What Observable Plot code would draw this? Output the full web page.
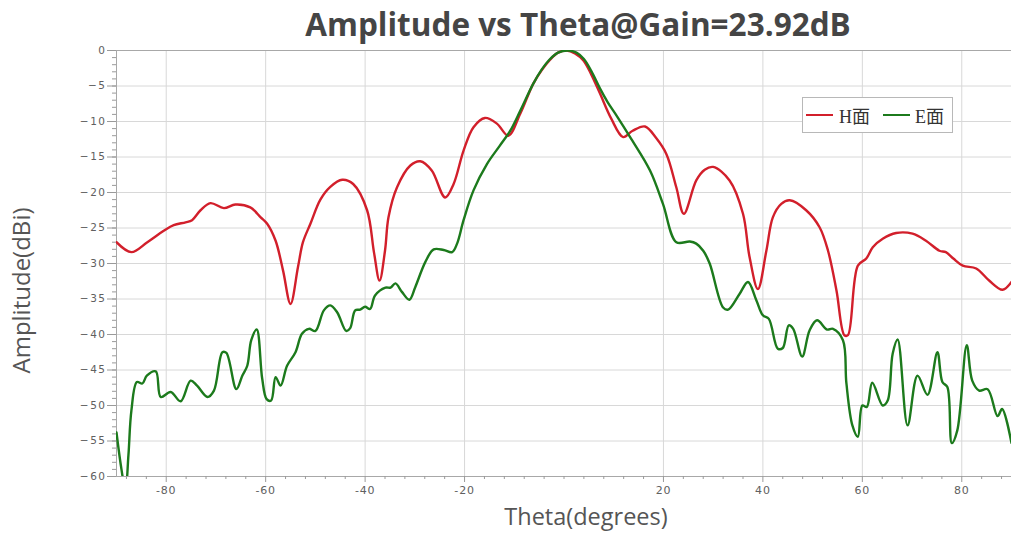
<!DOCTYPE html>
<html><head><meta charset="utf-8">
<script src="https://cdn.jsdelivr.net/npm/d3@7"></script>
<script src="https://cdn.jsdelivr.net/npm/@observablehq/plot@0.6"></script>
<style>
body{margin:0;background:#fff;}
#wrap{position:relative;width:1011px;height:534px;overflow:hidden;}
#legend{position:absolute;left:802px;top:97px;width:149px;height:34px;border:1px solid #b8b8b8;background:#fff;font-family:"Liberation Serif","Noto Sans CJK SC",serif;font-size:18px;color:#333;display:flex;align-items:center;}
#legend .ln{display:inline-block;width:27px;height:2px;}
g[aria-label="y-axis tick label"] text{letter-spacing:1.5px;}
g[aria-label="x-axis tick label"] text{letter-spacing:0.8px;}
</style></head><body><div id="wrap"></div>
<script>
const titleText = "Amplitude vs Theta@Gain=23.92dB";
const xLabelText = "Theta(degrees)";
const yLabelText = "Amplitude(dBi)";
const seriesNames = ["H面", "E面"];
const seriesColors = ["#d21f2b", "#1c7a1c"];

const xMajorTicks = [-80, -60, -40, -20, 20, 40, 60, 80];
const xTickLabels = ["-80", "-60", "-40", "-20", "20", "40", "60", "80"];
const xMinorTicks = [-88,-84,-76,-72,-68,-64,-56,-52,-48,-44,-36,-32,-28,-24,-16,-12,-8,-4,0,4,8,12,16,24,28,32,36,44,48,52,56,64,68,72,76,84,88];
const yMajorTicks = [0,-5,-10,-15,-20,-25,-30,-35,-40,-45,-50,-55,-60];
const yMinorTicks = d3.range(-60, 1, 1);

const hTheta = [-90,-87,-83.8,-80.5,-78.5,-76.1,-74.8,-73.1,-71.1,-68.4,-66.1,-63.1,-61.0,-59.7,-58.0,-56.5,-55.0,-53.5,-52.5,-51,-49,-47,-44.6,-42.4,-39.6,-38.2,-37.1,-36,-35.3,-33.6,-30.9,-28.9,-26.6,-23.9,-22.2,-20.2,-18.2,-15.9,-13.5,-11.2,-8.8,-6.2,-4.5,-2.8,-1.2,0.5,2.2,3.9,5.5,7.2,9.5,11.9,13.8,16.3,18.5,20.6,22.6,24.1,26.6,28.3,30.0,33.3,36.0,37.3,39.0,40.7,42.0,43.7,45.4,48.7,51.4,53.1,54.8,56.4,57.1,59.1,60.8,62.1,64.1,66.8,70.1,72.8,75.5,76.8,78.3,80.2,82.9,85.5,88.2,90];
const hAmp = [-27.0,-28.4,-27.0,-25.4,-24.6,-24.2,-23.9,-22.5,-21.5,-22.2,-21.7,-22.1,-23.5,-24.4,-26.8,-31,-35.7,-30.5,-27,-24.4,-21.0,-19.2,-18.2,-18.8,-22.5,-28.5,-32.4,-28.2,-23.5,-19.3,-16.2,-15.6,-16.9,-20.7,-18.8,-14.1,-10.8,-9.5,-10.3,-12.0,-8.9,-4.7,-2.8,-1.3,-0.3,0,-0.4,-1.4,-3.4,-6.0,-9.6,-12.2,-11.3,-10.7,-12.3,-14.6,-19.3,-23.0,-18.3,-16.8,-16.4,-18.3,-23.0,-29.0,-33.6,-28.2,-23.5,-21.6,-21.1,-22.5,-24.9,-28.2,-33.8,-40.1,-40.1,-30.3,-29.3,-27.7,-26.5,-25.7,-25.8,-26.8,-28.2,-28.4,-29.3,-30.3,-30.7,-32.4,-33.7,-32.6];

const eTheta = [-90,-89,-88.2,-87.6,-87.0,-85.9,-84.8,-83.9,-82.1,-81.1,-79.1,-77.1,-75.1,-73.8,-71.7,-70.4,-68.7,-67.9,-65.9,-64.7,-63.7,-62.9,-61.8,-60.7,-59.8,-58.9,-58.0,-57.0,-55.7,-54.0,-52.7,-51.3,-50.0,-48.3,-47.0,-45.6,-43.8,-43.0,-42.0,-41.0,-40.0,-39.0,-38.0,-35.9,-34.9,-33.9,-32.6,-31.1,-29.9,-27.9,-26.2,-24.2,-22.5,-21.5,-20.2,-18.2,-15.5,-12.9,-10.8,-8.8,-6.2,-4.5,-2.8,-1.2,0.8,2.5,4.0,5.5,7.2,8.8,10.6,13.3,17.3,19.9,22.6,25.3,26.6,28.0,29.3,32.0,33.0,35.3,37.0,38.7,40.0,41.2,43.0,44.0,45.2,46.1,47.9,49.4,50.9,52.9,54.1,56.1,56.8,58.0,59.1,60.0,60.9,62.0,64.1,65.1,66.1,67.1,69.1,71.1,73.1,75.1,76.1,77.1,78.0,79.1,81.0,82.1,83.5,85.2,87.2,88.1,90];
const eAmp = [-53.8,-59,-62,-57,-50.7,-46.7,-46.9,-45.8,-45.2,-48.8,-48.1,-49.4,-46.5,-47.2,-48.8,-47.9,-42.5,-42.6,-47.7,-45.8,-44.4,-40.8,-39.3,-46.2,-49.1,-49.3,-46.0,-47.2,-44.4,-42.5,-39.9,-39.2,-39.5,-36.6,-35.9,-36.9,-39.5,-39.1,-36.6,-36.5,-36.1,-36.4,-34.5,-33.4,-33.4,-32.8,-34.0,-35.1,-33.3,-29.8,-28.0,-28.1,-28.4,-27.2,-23.9,-19.7,-16.0,-13.4,-11.3,-8.5,-4.7,-2.7,-1.2,-0.3,0,-0.3,-1.2,-2.9,-5.3,-7.3,-9.2,-12.2,-16.9,-21.6,-27.0,-26.9,-27.2,-28.2,-30.0,-36.2,-36.5,-34.3,-32.6,-35.2,-37.3,-37.8,-42.0,-41.9,-38.7,-39.2,-43.1,-39.4,-38.0,-39.3,-39.2,-40.8,-46.9,-52.8,-54.4,-50.0,-50.2,-46.8,-50.0,-49.3,-42.7,-40.7,-52.8,-45.8,-48.5,-42.5,-46.7,-47.4,-55.3,-53.5,-41.5,-46.5,-47.9,-47.7,-51.5,-50.5,-55.3];

const hData = hTheta.map((t, i) => ({theta: t, amp: hAmp[i]}));
const eData = eTheta.map((t, i) => ({theta: t, amp: eAmp[i]}));

const axisColor = "#a8a8a8";
const gridColor = "#d8d8d8";

const chart = Plot.plot({
  width: 1011, height: 534,
  marginTop: 50, marginBottom: 58, marginLeft: 116, marginRight: 0,
  x: {domain: [-90, 90], label: null},
  y: {domain: [-60, 0], label: null},
  style: {fontFamily: "DejaVu Sans", background: "white", overflow: "visible"},
  marks: [
    Plot.gridX(xMajorTicks, {stroke: gridColor, strokeOpacity: 1}),
    Plot.gridY(yMajorTicks.filter(v => v !== 0 && v !== -60), {stroke: gridColor, strokeOpacity: 1}),
    Plot.ruleY([0], {stroke: axisColor}),
    Plot.ruleY([-60], {stroke: axisColor}),
    Plot.ruleX([-90], {stroke: axisColor}),
    Plot.axisX(xMajorTicks, {tickSize: 6, tickPadding: 4, fontSize: 11, stroke: "#9a9a9a", fill: "#606060", label: null, tickFormat: (d) => xTickLabels[xMajorTicks.indexOf(d)]}),
    Plot.axisX(xMinorTicks, {tickSize: 3, stroke: "#9a9a9a", tickFormat: () => "", label: null}),
    Plot.axisY(yMajorTicks, {tickSize: 9, tickPadding: 1, fontSize: 10.5, stroke: "#9a9a9a", fill: "#606060", label: null}),
    Plot.axisY(yMinorTicks, {tickSize: 4, stroke: "#9a9a9a", tickFormat: () => "", label: null}),
    Plot.line(hData, {x: "theta", y: "amp", stroke: seriesColors[0], strokeWidth: 2.4, curve: "catmull-rom", clip: true}),
    Plot.line(eData, {x: "theta", y: "amp", stroke: seriesColors[1], strokeWidth: 2.4, curve: "catmull-rom", clip: true}),
    Plot.text([titleText], {frameAnchor: "top", lineAnchor: "middle", dx: 14, dy: -25, text: d => d, fontSize: 31.5, fontWeight: "bold", fill: "#454545", fontFamily: "Open Sans"}),
    Plot.text([xLabelText], {frameAnchor: "bottom", lineAnchor: "middle", dx: 22, dy: 41, text: d => d, fontSize: 23.5, fill: "#555", fontFamily: "Open Sans"}),
    Plot.text([yLabelText], {frameAnchor: "left", textAnchor: "middle", dx: -94, dy: 27, rotate: -90, text: d => d, fontSize: 24, fill: "#555", fontFamily: "Open Sans"})
  ]
});

const wrap = document.getElementById("wrap");
wrap.appendChild(chart);

const legend = document.createElement("div");
legend.id = "legend";
legend.innerHTML =
  `<span class="ln" style="margin-left:3px;background:${seriesColors[0]}"></span>` +
  `<span style="margin-left:6px">${seriesNames[0]}</span>` +
  `<span class="ln" style="margin-left:13px;background:${seriesColors[1]}"></span>` +
  `<span style="margin-left:5px">${seriesNames[1]}</span>`;
wrap.appendChild(legend);
</script>
</body></html>
